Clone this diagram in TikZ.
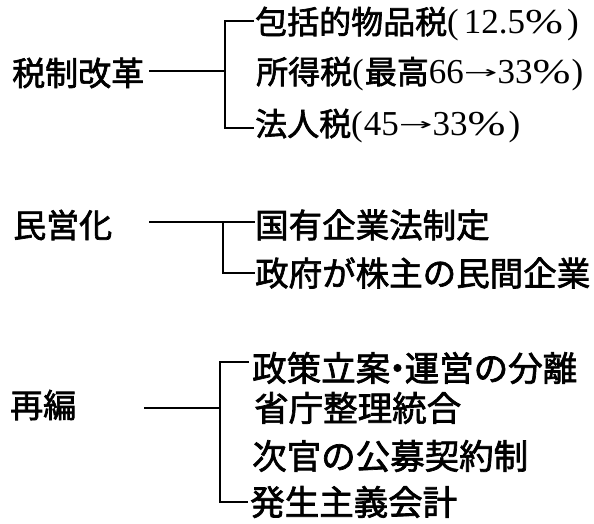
\documentclass[tikz,border=0pt]{standalone}
\usepackage{graphicx}
\usepackage{fontspec}
\newfontfamily\cjk[FakeBold=2]{Noto Sans CJK JP}
\newfontfamily\numf{Liberation Serif}
\newfontfamily\symf{DejaVu Sans}
\newcommand\nm[1]{{\numf\fontsize{35}{40}\selectfont #1}}
\newcommand\arr{\raisebox{5pt}{\scalebox{1.3}[0.55]{\symf\fontsize{31}{38}\selectfont →}}}
\newcommand\pct{\scalebox{1.3}[1]{\%}}
\begin{document}
\begin{tikzpicture}[x=1pt,y=-1pt,
  lbl/.style={anchor=west, inner sep=0pt, font=\cjk\fontsize{33}{38}\selectfont},
  itm/.style={anchor=west, inner sep=0pt, font=\cjk\fontsize{32}{38}\selectfont},
  itmb/.style={anchor=west, inner sep=0pt, font=\cjk\fontsize{33.5}{38}\selectfont},
  itmc/.style={anchor=west, inner sep=0pt, font=\cjk\fontsize{34.5}{38}\selectfont},
  conn/.style={line width=1.6pt, line cap=rect}]
\useasboundingbox (0,0) rectangle (594,523);
% group 1
\node[lbl] (g1) at (12,73) {税制改革};
\node[itm] (t11) at (255,24) {包括的物品税\nm{(\kern5pt 12.5\pct\kern4pt)}};
\node[itm] (t12) at (256,74) {所得税\nm{(\kern1pt}最高\nm{66\arr 33\pct\kern1pt)}};
\node[itm] (t13) at (255,126) {法人税\nm{(\kern1pt 45\arr 33\pct\kern3pt)}};
\coordinate (s1) at (150,71);
\coordinate (j1) at (225,71);
\coordinate (b1t) at (225,21);
\coordinate (b1b) at (225,128);
\draw[conn] (s1) -- (j1);
\draw[conn] ([xshift=-2pt]t11.west |- b1t) -- (b1t) -- (b1b) -- ([xshift=-2pt]t13.west |- b1b);
% group 2
\node[lbl] (g2) at (13,225) {民営化};
\node[itmb] (t21) at (255,225) {国有企業法制定};
\node[itmb] (t22) at (255,273) {政府が株主の民間企業};
\coordinate (s2) at (150,222);
\coordinate (j2) at (223,222);
\coordinate (b2b) at (223,273);
\draw[conn] (s2) -- ([xshift=-1pt]t21.west |- s2);
\draw[conn] (j2) -- (b2b) -- ([xshift=-1pt]t22.west |- b2b);
% group 3
\node[lbl] (g3) at (10,405) {再編};
\node[itmc] (t31) at (252,368) {政策立案\kern-10pt・\kern-10pt 運営の分離};
\node[itmc] (t32) at (254,408) {省庁整理統合};
\node[itmc] (t33) at (252,456) {次官の公募契約制};
\node[itmc] (t34) at (250,502) {発生主義会計};
\coordinate (s3) at (145,408);
\coordinate (j3) at (220,408);
\coordinate (b3t) at (220,362);
\coordinate (b3b) at (220,502);
\draw[conn] (s3) -- (j3);
\draw[conn] ([xshift=-4pt]t31.west |- b3t) -- (b3t) -- (b3b) -- ([xshift=-3pt]t34.west |- b3b);
\end{tikzpicture}
\end{document}
